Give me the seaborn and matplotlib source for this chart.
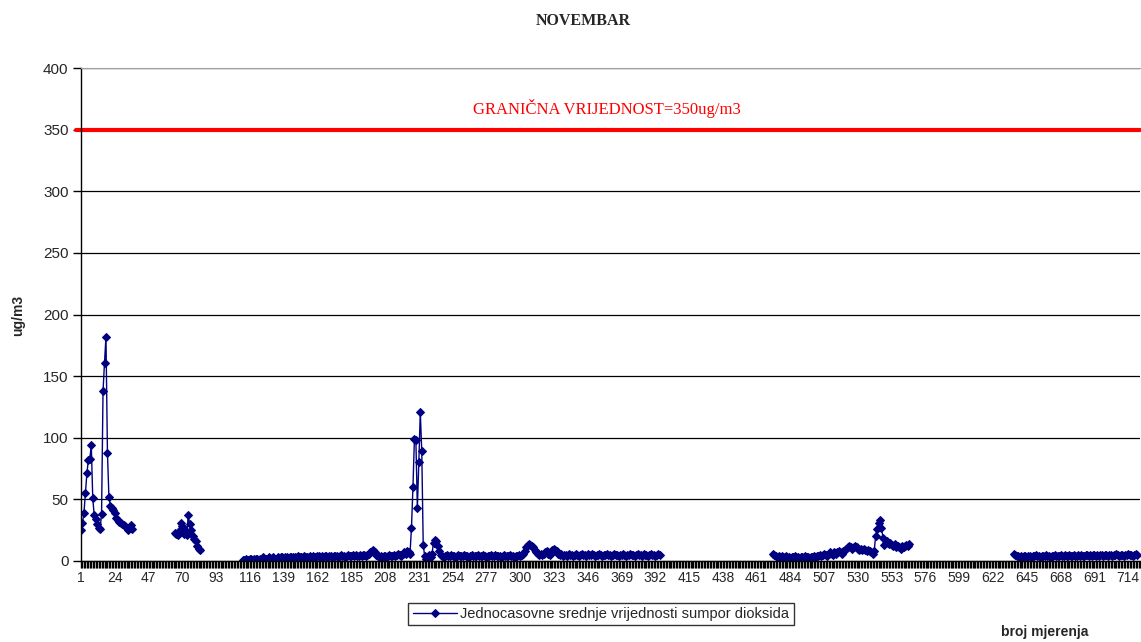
import numpy as np
import pandas as pd
import matplotlib.pyplot as plt
import seaborn as sns
from matplotlib.ticker import MultipleLocator

# hourly SO2 means for November, split into the measured stretches (gaps = no data)
seg1_start = 1
seg1 = [25, 31, 39, 55, 71, 82, 83, 94, 51, 37, 34, 30, 27, 26, 38, 138, 161, 182,
        88, 52, 45, 43, 41, 39, 35, 33, 32, 31, 30, 29, 28, 27, 25, 27, 29, 26]

seg2_start = 65
seg2 = [23, 22, 21, 24, 31, 28, 22, 25, 21, 37, 30, 25, 20, 18, 16, 12, 10, 9]

seg3_start = 111
seg3 = [1, 1, 2, 1, 1, 2, 2, 1, 2, 2, 2, 1, 2, 2, 3, 2, 2, 2, 3, 2,
        2, 3, 2, 2, 3, 2, 3, 3, 2, 3, 3, 2, 3, 3, 3, 2, 3, 3, 4, 3,
        3, 3, 4, 3, 3, 3, 4, 3, 4, 3, 3, 4, 4, 3, 4, 3, 4, 4, 3, 4,
        4, 3, 4, 4, 4, 3, 4, 5, 4, 4, 3, 4, 5, 4, 4, 5, 4, 5, 4, 4,
        5, 4, 5, 5, 4, 5, 6, 7, 8, 9, 7, 5, 4, 3, 4, 3, 4, 4, 3, 4,
        5, 4, 4, 5, 4, 5, 6, 5, 4, 6, 7, 6, 8, 7, 6,
        27, 60, 99, 98, 43, 80, 121, 89, 13,
        4, 2, 3, 5, 3, 6, 15, 17, 16, 12, 8, 5, 4, 3, 4, 5,
        4, 4, 5, 4, 4, 3, 4, 5, 4, 4, 4, 5, 4, 4, 3, 4, 5, 4, 4, 4,
        5, 4, 4, 4, 5, 4, 3, 4, 4, 5, 4, 4, 5, 4, 4, 4, 3, 4, 5, 4,
        4, 4, 5, 4, 4, 3, 4, 4, 5, 4, 5, 6, 8, 11, 13,
        14, 13, 12, 11, 9, 7, 6, 5, 6, 5, 6, 7, 8, 6, 5,
        7, 9, 10, 9, 8, 6, 5, 6, 4, 5, 5, 4, 6, 5, 5, 4, 5, 6, 5, 4,
        5, 6, 5, 5, 4, 6, 5, 5, 6, 5, 4, 5, 5, 6, 5, 4, 5, 5, 6, 5,
        5, 4, 5, 6, 5, 5, 4, 5, 5, 6, 5, 4, 5, 5, 6, 5, 5, 4, 5, 6,
        5, 5, 4, 6, 5, 5, 4, 5, 6, 5, 5, 4, 5, 6, 5]

seg4_start = 472
seg4 = [6, 5, 4, 3, 4,
        3, 4, 3, 3, 4, 3, 3, 2, 3, 3, 4, 3, 3, 2, 3, 3, 3, 4, 3, 3, 2, 3, 3, 4,
        3, 4, 4, 5, 4, 5, 6, 5, 4, 6, 7, 6, 5, 7, 6, 7, 8, 7, 6, 8,
        9, 10, 11, 12, 11, 10, 11, 12, 11, 10, 9, 10, 9, 10, 9, 8, 9, 8, 7,
        6, 8, 20, 26, 31, 33, 27, 19, 13, 15,
        16, 14, 15, 13, 12, 14, 11, 12, 11, 10, 12, 11, 12, 13, 12, 14]

seg5_start = 636
seg5 = [6, 5, 4, 4, 3, 4, 3, 4, 4, 3, 4, 4, 3, 4, 4, 5, 4, 4, 3, 4,
        4, 4, 5, 4, 4, 3, 4, 4, 5, 4, 4, 4, 5, 4, 4, 5, 4, 4, 5, 4,
        4, 5, 4, 4, 5, 4, 5, 4, 4, 5, 5, 4, 5, 4, 5, 5, 4, 5, 4, 5,
        5, 4, 5, 5, 4, 5, 5, 4, 5, 5, 6, 5, 4, 5, 5, 4, 5, 5, 6, 5,
        5, 4, 5, 6, 5]

limit_value = 350
x_tick_labels = [1, 24, 47, 70, 93, 116, 139, 162, 185, 208, 231, 254, 277, 300,
                 323, 346, 369, 392, 415, 438, 461, 484, 507, 530, 553, 576, 599,
                 622, 645, 668, 691, 714]
y_ticks = [0, 50, 100, 150, 200, 250, 300, 350, 400]
series_name = "Jednocasovne srednje vrijednosti sumpor dioksida"

# build one long table, segment id used to keep the gaps
frames = []
for i, (start, vals) in enumerate([(seg1_start, seg1), (seg2_start, seg2),
                                   (seg3_start, seg3), (seg4_start, seg4),
                                   (seg5_start, seg5)]):
    frames.append(pd.DataFrame({"mjerenje": np.arange(start, start + len(vals)),
                                "vrijednost": vals, "seg": i}))
df = pd.concat(frames, ignore_index=True)

sns.set_style("white")
plt.rcParams['font.family'] = ['Liberation Sans', 'DejaVu Sans']

fig = plt.figure(figsize=(11.41, 6.42), dpi=100)
ax = fig.add_axes([81 / 1141, 1 - 561 / 642, 1059 / 1141, 493 / 642])

sns.lineplot(data=df, x="mjerenje", y="vrijednost", units="seg", estimator=None,
             color="#000080", linewidth=1, marker="D", markersize=4.5,
             markeredgecolor="#000080", ax=ax, legend=False)

ax.axhline(limit_value, color="#ff0000", linewidth=3, zorder=1, clip_on=False,
           xmin=-0.005)
ax.text(0.497, 367.5, "GRANIČNA VRIJEDNOST=350ug/m3", color="#ff0000",
        fontsize=12, family="Liberation Serif", ha="center", va="center",
        transform=ax.get_yaxis_transform())

ax.set_xlim(1, 722)
ax.set_ylim(0, 400)
ax.set_yticks(y_ticks)
ax.set_xticks(x_tick_labels)
ax.xaxis.set_minor_locator(MultipleLocator(1))
ax.tick_params(axis="x", which="both", direction="out", length=5, width=1,
               color="black", bottom=True, labelsize=10, pad=2)
ax.tick_params(axis="y", direction="out", length=6, width=1, color="black",
               left=True, labelsize=11, pad=3)
ax.yaxis.grid(True, color="black", linewidth=0.9)
ax.set_axisbelow(True)

for side in ["left", "bottom"]:
    ax.spines[side].set_color("black")
    ax.spines[side].set_linewidth(1)
ax.spines["top"].set_color("#a0a0a0")
ax.spines["right"].set_visible(False)

ax.set_xlabel("")
ax.set_ylabel("")
fig.text(18 / 1141, 1 - 315 / 642, "ug/m3", rotation=90, fontsize=10,
         fontweight="bold", ha="center", va="center")
fig.text(1045 / 1141, 1 - 632 / 642, "broj mjerenja", fontsize=10,
         fontweight="bold", ha="center", va="center")
fig.text(583 / 1141, 1 - 21 / 642, "NOVEMBAR", fontsize=11.5,
         fontweight="bold", family="Liberation Serif", ha="center", va="center")

handle = ax.lines[0]
leg = fig.legend([handle], [series_name], loc="center",
                 bbox_to_anchor=(601 / 1141, 1 - 614 / 642), fontsize=10.5,
                 frameon=True, fancybox=False, edgecolor="black",
                 handlelength=3.0, handletextpad=0.25, borderpad=0.3)
leg.get_frame().set_linewidth(1)

fig.savefig("out.png", dpi=100)
